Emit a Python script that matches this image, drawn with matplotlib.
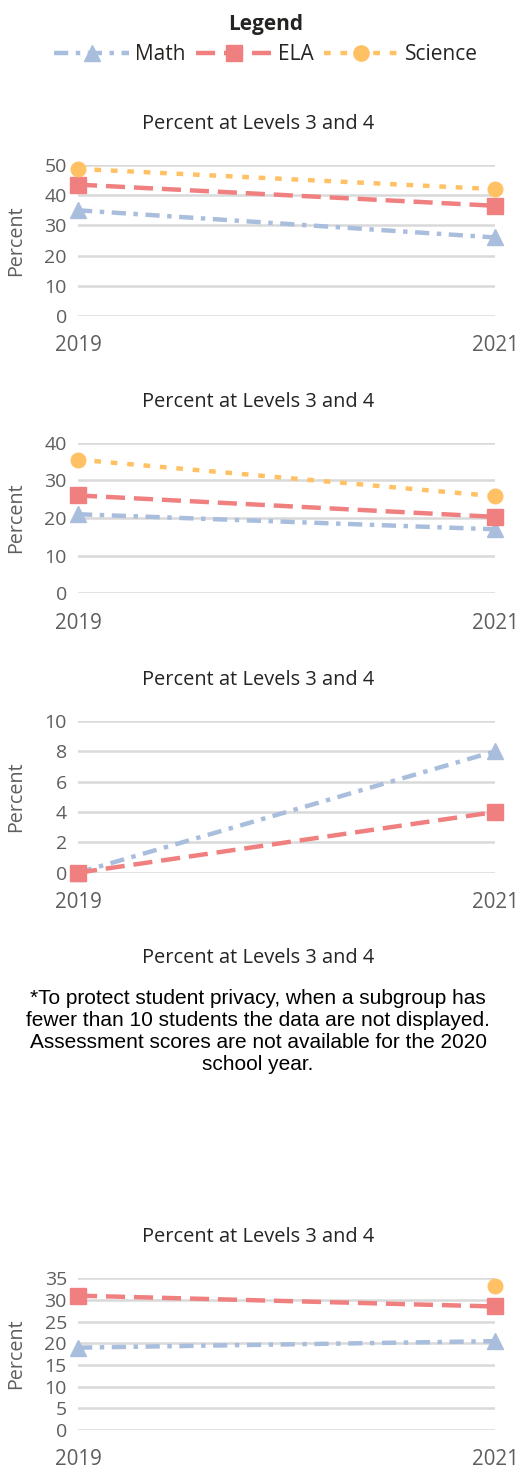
import numpy as np
import matplotlib
matplotlib.use("Agg")
import matplotlib.pyplot as plt
from matplotlib.lines import Line2D

plt.rcParams['font.family'] = ['Open Sans', 'DejaVu Sans']

# Datos de cada panel (NaN = sin dato)
years = ["2019", "2021"]
math_1 = [35, 26]
ela_1 = [43.5, 36.5]
sci_1 = [48.7, 42]

math_2 = [21, 17]
ela_2 = [26, 20.3]
sci_2 = [35.5, 25.8]

math_3 = [0, 8]
ela_3 = [0, 4]

math_5 = [19, 20.5]
ela_5 = [31, 28.5]
sci_5 = [np.nan, 33.3]

titulo = "Percent at Levels 3 and 4"
nota = ("*To protect student privacy, when a subgroup has\n"
        "fewer than 10 students the data are not displayed.\n"
        "Assessment scores are not available for the 2020\n"
        "school year.")

# Estilos
c_math = "#A9BEDD"
c_ela = "#F08080"
c_sci = "#FFC164"
ls_math = (0, (3.2, 1.7, 1, 1.7))
ls_ela = (0, (4.3, 2))
ls_sci = (0, (1.5, 2.2))
gris = "#605E5C"
negro = "#252423"

W, H = 519, 1468
fig = plt.figure(figsize=(W / 100, H / 100), dpi=100)


def px(y):
    return 1 - y / H


def panel(top, bottom, ymax, step, series):
    ax = fig.add_axes([78 / W, px(bottom), (495 - 78) / W, (bottom - top) / H])
    x = np.arange(len(years))
    for vals, col, ls, mk, ms in series:
        ax.plot(x, vals, color=col, linestyle=ls, lw=3.2, marker=mk, ms=ms,
                dash_capstyle='butt', clip_on=False, zorder=3)
    ax.set_xlim(0, 1)
    ax.set_ylim(0, ymax)
    ax.set_yticks(np.arange(0, ymax + 0.1, step))
    ax.set_xticks(x)
    ax.set_xticklabels(years)
    ax.grid(axis='y', color="#D9D9D9", lw=1.8)
    ax.set_axisbelow(True)
    for s in ax.spines.values():
        s.set_visible(False)
    ax.tick_params(axis='y', length=0, pad=8, labelsize=14, labelcolor=gris)
    ax.tick_params(axis='x', length=0, pad=14, labelsize=14.8, labelcolor=gris)
    ax.set_ylabel("Percent", fontsize=14.2, color=gris)
    ax.yaxis.set_label_coords(-0.125, 0.5)
    fig.text(258 / W, px(top - 41), titulo, ha='center', va='center',
             fontsize=14.4, color=negro)
    return ax


m_math = ('^', 11)
m_ela = ('s', 11)
m_sci = ('o', 10.5)

panel(165, 316, 50, 10, [
    (math_1, c_math, ls_math, *m_math),
    (ela_1, c_ela, ls_ela, *m_ela),
    (sci_1, c_sci, ls_sci, *m_sci),
])
panel(442.7, 593.3, 40, 10, [
    (math_2, c_math, ls_math, *m_math),
    (ela_2, c_ela, ls_ela, *m_ela),
    (sci_2, c_sci, ls_sci, *m_sci),
])
panel(721, 872.7, 10, 2, [
    (math_3, c_math, ls_math, *m_math),
    (ela_3, c_ela, ls_ela, *m_ela),
])
panel(1278.3, 1430, 35, 5, [
    (math_5, c_math, ls_math, *m_math),
    (ela_5, c_ela, ls_ela, *m_ela),
    (sci_5, c_sci, ls_sci, *m_sci),
])

# Panel sin datos: título y nota
fig.text(258 / W, px(958), titulo, ha='center', va='center',
         fontsize=14.4, color=negro)
fig.text(258 / W, px(1032), nota, ha='center', va='center', fontsize=15,
         family='Liberation Sans', color='black', linespacing=1.2)

# Leyenda
handles = [
    Line2D([], [], color=c_math, linestyle=ls_math, lw=3.2, marker='^', ms=11),
    Line2D([], [], color=c_ela, linestyle=ls_ela, lw=3.2, marker='s', ms=11),
    Line2D([], [], color=c_sci, linestyle=ls_sci, lw=3.2, marker='o', ms=11),
]
leg = fig.legend(handles, ["Math", "ELA", "Science"], loc='center',
                 bbox_to_anchor=(266 / W, px(39.5)), ncol=3, frameon=False,
                 title="Legend", fontsize=15, handlelength=3.6,
                 handletextpad=0.3, columnspacing=0.5, borderaxespad=0,
                 labelspacing=0.45)
leg.get_title().set_fontweight('bold')
leg.get_title().set_fontsize(15)
leg.get_title().set_color(negro)
for t in leg.get_texts():
    t.set_color(negro)

fig.savefig("out.png", dpi=100)
